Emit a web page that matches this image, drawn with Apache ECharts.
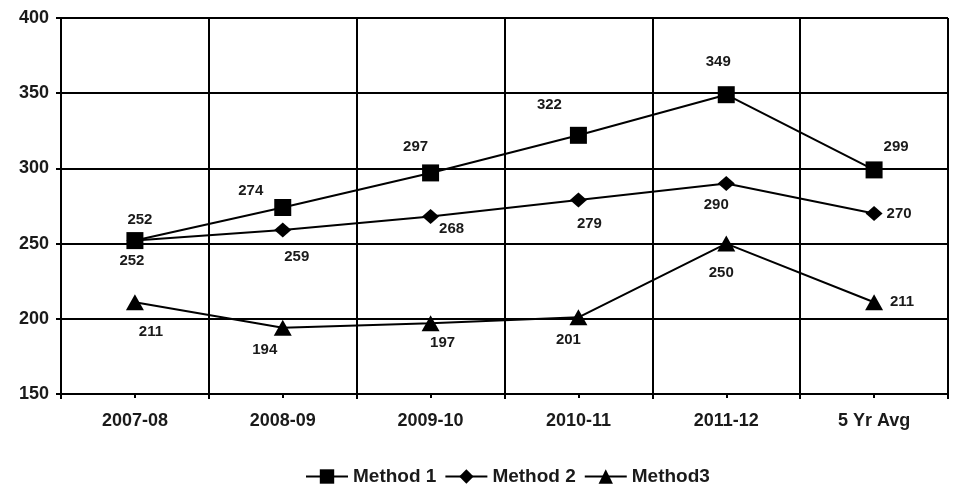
<!DOCTYPE html>
<html>
<head>
<meta charset="utf-8">
<script src="https://cdn.jsdelivr.net/npm/echarts@6/dist/echarts.min.js"></script>
<style>
  html, body { margin: 0; padding: 0; background: #fff; }
  #chart { width: 955px; height: 487px; }
</style>
</head>
<body>
<div id="chart"></div>
<script>
// Categories and series values
var categories = ['2007-08', '2008-09', '2009-10', '2010-11', '2011-12', '5 Yr Avg'];
var method1 = [252, 274, 297, 322, 349, 299];
var method2 = [252, 259, 268, 279, 290, 270];
var method3 = [211, 194, 197, 201, 250, 211];
var seriesNames = ['Method 1', 'Method 2', 'Method3'];
var yTicks = [150, 200, 250, 300, 350, 400];

// Where each value label sits relative to its marker
var labelOffsets1 = [[5, -21], [-32, -17], [-15, -26], [-29, -30], [-8, -33], [22, -23]];
var labelOffsets2 = [[-3, 20], [14, 27], [21, 12], [11, 24], [-10, 21], [25, 0]];
var labelOffsets3 = [[16, 30], [-18, 22], [12, 20], [-10, 23], [-5, 29], [28, 0]];

var ink = '#000';
var textInk = '#1a1a1a';
var fontFamily = '"Liberation Sans", Arial, sans-serif';

function withLabels(values, offsets) {
  return values.map(function (v, i) {
    return {
      value: v,
      label: { offset: offsets[i] }
    };
  });
}

function lineSeries(name, values, offsets, symbol, size) {
  return {
    name: name,
    type: 'line',
    xAxisIndex: 0,
    data: withLabels(values, offsets),
    symbol: symbol,
    symbolSize: size,
    showAllSymbol: true,
    lineStyle: { color: ink, width: 2 },
    itemStyle: { color: ink, borderWidth: 0 },
    label: {
      show: true,
      position: 'inside',
      color: textInk,
      fontFamily: fontFamily,
      fontWeight: 'bold',
      fontSize: 15
    },
    emphasis: { disabled: true },
    animation: false,
    z: 3
  };
}

var chart = echarts.init(document.getElementById('chart'), null, { renderer: 'canvas' });

chart.setOption({
  backgroundColor: '#fff',
  animation: false,
  grid: { left: 61, right: 7, top: 18, bottom: 93, containLabel: false },
  legend: {
    left: 305,
    top: 467,
    padding: 0,
    itemWidth: 42,
    itemHeight: 18,
    itemGap: 8,
    data: seriesNames,
    textStyle: {
      color: textInk,
      fontFamily: fontFamily,
      fontWeight: 'bold',
      fontSize: 19
    }
  },
  xAxis: [
    {
      type: 'category',
      data: categories,
      boundaryGap: true,
      position: 'bottom',
      axisLine: { show: true, lineStyle: { color: ink, width: 2 } },
      axisTick: { show: true, alignWithLabel: true, length: 4, lineStyle: { color: ink, width: 2 } },
      axisLabel: {
        color: textInk,
        fontFamily: fontFamily,
        fontWeight: 'bold',
        fontSize: 18,
        margin: 18
      },
      splitLine: { show: true, lineStyle: { color: ink, width: 2 } }
    },
    {
      // boundary ticks below the category dividers
      type: 'category',
      data: categories,
      boundaryGap: true,
      position: 'bottom',
      gridIndex: 0,
      axisLine: { show: false },
      axisTick: { show: true, length: 5, lineStyle: { color: ink, width: 2 } },
      axisLabel: { show: false },
      splitLine: { show: false }
    }
  ],
  yAxis: {
    type: 'value',
    min: yTicks[0],
    max: yTicks[yTicks.length - 1],
    interval: 50,
    axisLine: { show: true, lineStyle: { color: ink, width: 2 } },
    axisTick: { show: true, length: 5, lineStyle: { color: ink, width: 2 } },
    axisLabel: {
      color: textInk,
      fontFamily: fontFamily,
      fontWeight: 'bold',
      fontSize: 18,
      margin: 12
    },
    splitLine: { show: true, lineStyle: { color: ink, width: 2 } }
  },
  series: [
    lineSeries(seriesNames[0], method1, labelOffsets1, 'rect', 17),
    lineSeries(seriesNames[1], method2, labelOffsets2, 'diamond', [17, 15]),
    lineSeries(seriesNames[2], method3, labelOffsets3, 'triangle', [18, 16])
  ]
});
</script>
</body>
</html>
